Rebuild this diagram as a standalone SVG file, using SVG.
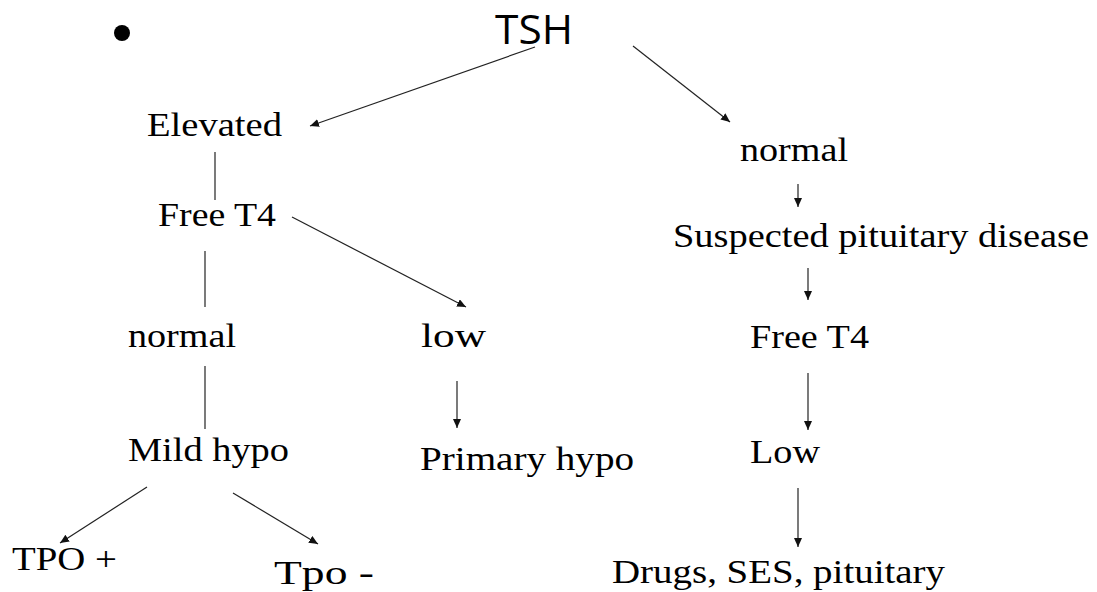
<svg xmlns="http://www.w3.org/2000/svg" width="1097" height="592" viewBox="0 0 1097 592">
<defs>
<style>
.t{font-family:"Liberation Serif","Times New Roman",serif;font-size:33px;fill:#000}
.h{font-family:"Open Sans","Liberation Sans",sans-serif;font-size:40px;fill:#000}
.c{stroke:#222;stroke-width:1.2;fill:none}
.a{marker-end:url(#ah)}
</style>
<marker id="ah" markerUnits="userSpaceOnUse" markerWidth="9" markerHeight="8" refX="9" refY="4" orient="auto">
<path d="M0,0 L9,4 L0,8 z" fill="#111"/>
</marker>
</defs>
<rect width="1097" height="592" fill="#fff"/>
<circle cx="122" cy="33" r="8" fill="#000"/>
<g id="connectors">
<line class="c a" x1="535" y1="47" x2="310" y2="126"/>
<line class="c a" x1="633" y1="46" x2="730" y2="122"/>
<line class="c" x1="215" y1="152" x2="215" y2="200"/>
<line class="c a" x1="292" y1="217" x2="466" y2="307"/>
<line class="c" x1="205" y1="251" x2="205" y2="307"/>
<line class="c" x1="205" y1="366" x2="205" y2="429"/>
<line class="c a" x1="457" y1="381" x2="457" y2="428"/>
<line class="c a" x1="147" y1="487" x2="60" y2="543"/>
<line class="c a" x1="233" y1="493" x2="318" y2="544"/>
<line class="c a" x1="798" y1="184" x2="798" y2="207"/>
<line class="c a" x1="808" y1="268" x2="808" y2="300"/>
<line class="c a" x1="808" y1="373" x2="808" y2="430"/>
<line class="c a" x1="798" y1="488" x2="798" y2="547"/>
</g>
<g id="tsh"><text class="h" x="495" y="44" textLength="78" lengthAdjust="spacingAndGlyphs">TSH</text></g>
<g id="elevated"><text class="t" x="147" y="136" textLength="135" lengthAdjust="spacingAndGlyphs">Elevated</text></g>
<g id="freet4-left"><text class="t" x="158" y="226" textLength="118" lengthAdjust="spacingAndGlyphs">Free T4</text></g>
<g id="normal-left"><text class="t" x="128" y="347" textLength="108" lengthAdjust="spacingAndGlyphs">normal</text></g>
<g id="low-left"><text class="t" x="421" y="347" textLength="65" lengthAdjust="spacingAndGlyphs">low</text></g>
<g id="mild-hypo"><text class="t" x="128" y="461" textLength="161" lengthAdjust="spacingAndGlyphs">Mild hypo</text></g>
<g id="primary-hypo"><text class="t" x="420" y="470" textLength="214" lengthAdjust="spacingAndGlyphs">Primary hypo</text></g>
<g id="tpo-plus"><text class="t" x="12" y="570" textLength="105" lengthAdjust="spacingAndGlyphs">TPO +</text></g>
<g id="tpo-minus"><text class="t" x="274" y="584" textLength="100" lengthAdjust="spacingAndGlyphs">Tpo -</text></g>
<g id="normal-right"><text class="t" x="740" y="161" textLength="108" lengthAdjust="spacingAndGlyphs">normal</text></g>
<g id="suspected"><text class="t" x="673" y="247" textLength="416" lengthAdjust="spacingAndGlyphs">Suspected pituitary disease</text></g>
<g id="freet4-right"><text class="t" x="750" y="348" textLength="119" lengthAdjust="spacingAndGlyphs">Free T4</text></g>
<g id="low-right"><text class="t" x="750" y="463" textLength="70" lengthAdjust="spacingAndGlyphs">Low</text></g>
<g id="drugs"><text class="t" x="612" y="583" textLength="333" lengthAdjust="spacingAndGlyphs">Drugs, SES, pituitary</text></g>
</svg>
